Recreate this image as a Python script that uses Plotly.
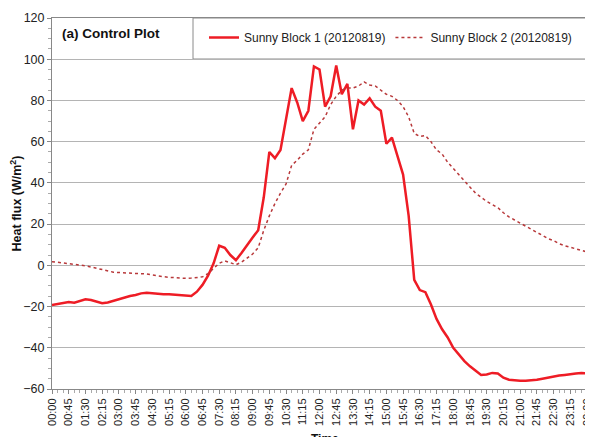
import plotly.graph_objects as go

# 15-minute time stamps over one day (00:00 .. 24:00)
times = [f"{(m // 60) % 24:02d}:{m % 60:02d}" for m in range(0, 24 * 60 + 1, 15)]

block1 = [
    -19.2, -18.8, -18.3, -17.8, -18.1, -17.3, -16.5, -16.8, -17.6, -18.4,
    -18.0, -17.2, -16.4, -15.6, -14.9, -14.4, -13.6, -13.3, -13.6, -13.9,
    -14.0, -14.0, -14.2, -14.4, -14.6, -14.9, -12.8, -9.5, -5.0, 1.0,
    9.5, 8.5, 5.0, 2.5, 6.0, 10.0, 13.5, 17.0, 33.0, 55.0,
    52.0, 56.0, 72.0, 86.0, 79.0, 70.0, 75.0, 96.5, 95.0, 77.0,
    82.0, 97.0, 83.0, 88.0, 66.0, 80.0, 78.0, 81.0, 77.0, 75.0,
    59.0, 62.0, 53.0, 44.0, 24.0, -7.0, -12.0, -13.0, -19.0, -26.0,
    -31.0, -35.0, -40.0, -43.5, -46.5, -49.0, -51.0, -53.2, -53.0, -52.2,
    -52.5, -54.5, -55.5, -55.8, -56.0, -56.0, -55.8, -55.5, -55.0, -54.5,
    -53.8, -53.5, -53.2, -53.0, -52.5, -52.2, -52.5,
]

block2 = [
    1.8, 1.5, 1.2, 1.0, 0.6, 0.2, -0.2, -0.8, -1.5, -2.2,
    -2.8, -3.3, -3.5, -3.6, -3.7, -3.8, -3.9, -4.2, -4.7, -5.2,
    -5.5, -5.8, -6.0, -6.2, -6.3, -6.2, -6.0, -5.6, -4.0, -1.5,
    1.0, 2.2, 1.2, 0.3, 1.5, 3.4, 5.5, 8.5, 17.0, 24.0,
    30.0, 35.0, 39.5, 48.5, 51.0, 54.0, 56.0, 66.0, 69.0, 72.0,
    78.0, 82.0, 85.0, 86.0, 86.0, 87.0, 89.0, 87.5, 87.0, 85.0,
    83.0, 82.0, 80.0, 77.0, 72.0, 64.0, 62.5, 63.0, 60.0, 56.0,
    54.0, 50.0, 47.0, 44.0, 41.0, 38.0, 35.0, 33.0, 31.0, 29.5,
    28.0, 25.5, 23.5, 22.0, 20.5, 19.0, 17.5, 16.0, 14.5, 13.0,
    12.0, 10.5, 9.5, 8.7, 8.0, 7.3, 6.5,
]

tick_step = 3  # a label every 45 minutes
y_ticks = [-60, -40, -20, 0, 20, 40, 60, 80, 100, 120]

idx = list(range(len(times)))
FONT = "Liberation Sans, Arial, sans-serif"

# page body has an 8px default margin; compensate so the plot sits where the reference does
OFF = 8
PL, PR, PT, PB = 52, 587, 18, 389          # plot area in page pixels
PW, PH = PR - PL, PB - PT


def px(xp):
    return (xp - PL) / PW


def py(yp):
    return (PB - yp) / PH


fig = go.Figure()
fig.add_trace(go.Scatter(
    x=idx, y=block1, mode="lines", name="Sunny Block 1 (20120819)",
    line=dict(color="#ee1c25", width=2.5),
))
fig.add_trace(go.Scatter(
    x=idx, y=block2, mode="lines", name="Sunny Block 2 (20120819)",
    line=dict(color="#b8383a", width=1.5, dash="dot"),
))

# legend box (covers gridlines, not data)
fig.add_shape(type="rect", xref="paper", yref="paper",
              x0=px(193), x1=1, y0=py(59), y1=1,
              fillcolor="white", line=dict(color="#8a8a8a", width=1),
              layer="between")

fig.add_annotation(text="<b>(a) Control Plot</b>", xref="paper", yref="paper",
                   x=px(60), y=py(33), xanchor="left", yanchor="middle",
                   showarrow=False, font=dict(family=FONT, size=13.5, color="#111"))
fig.add_annotation(text="<b>Time</b>", xref="paper", yref="paper",
                   x=px(325), y=py(439), xanchor="center", yanchor="middle",
                   showarrow=False, font=dict(family=FONT, size=12, color="#111"))

fig.update_layout(
    width=593 - OFF, height=437 - OFF,
    margin=dict(l=PL - OFF, r=593 - PR, t=PT - OFF, b=437 - PB, autoexpand=False),
    paper_bgcolor="white", plot_bgcolor="white",
    font=dict(family=FONT, size=12, color="#222"),
    showlegend=True,
    legend=dict(orientation="h", x=px(204), y=1 - 5 / PH,
                xanchor="left", yanchor="top", bgcolor="rgba(0,0,0,0)",
                borderwidth=0, font=dict(family=FONT, size=12, color="#222"),
                itemwidth=30, tracegroupgap=0),
    xaxis=dict(
        range=[0, len(times) - 1],
        tickmode="array",
        tickvals=idx[::tick_step],
        ticktext=times[::tick_step],
        tickangle=-90,
        tickfont=dict(family=FONT, size=11, color="#222"),
        ticks="outside", ticklen=4, tickcolor="#888",
        minor=dict(dtick=1, tick0=0, ticks="outside", ticklen=3, tickcolor="#aaa", showgrid=False),
        showgrid=False, zeroline=False, automargin=False,
        showline=True, linecolor="#888", linewidth=1, mirror=True,
    ),
    yaxis=dict(
        range=[-60, 120],
        tickmode="array", tickvals=y_ticks,
        tickfont=dict(family=FONT, size=12.5, color="#222"),
        ticks="outside", ticklen=4, tickcolor="#888",
        minor=dict(dtick=5, tick0=0, ticks="outside", ticklen=3, tickcolor="#aaa", showgrid=False),
        showgrid=True, gridcolor="#b4b4b4", gridwidth=1,
        zeroline=False, automargin=False,
        showline=True, linecolor="#888", linewidth=1, mirror=True,
        title=dict(text="<b>Heat flux (W/m<sup>2</sup>)</b>", standoff=0,
                   font=dict(family=FONT, size=12.5, color="#111")),
    ),
)

fig.write_html("out.html")
